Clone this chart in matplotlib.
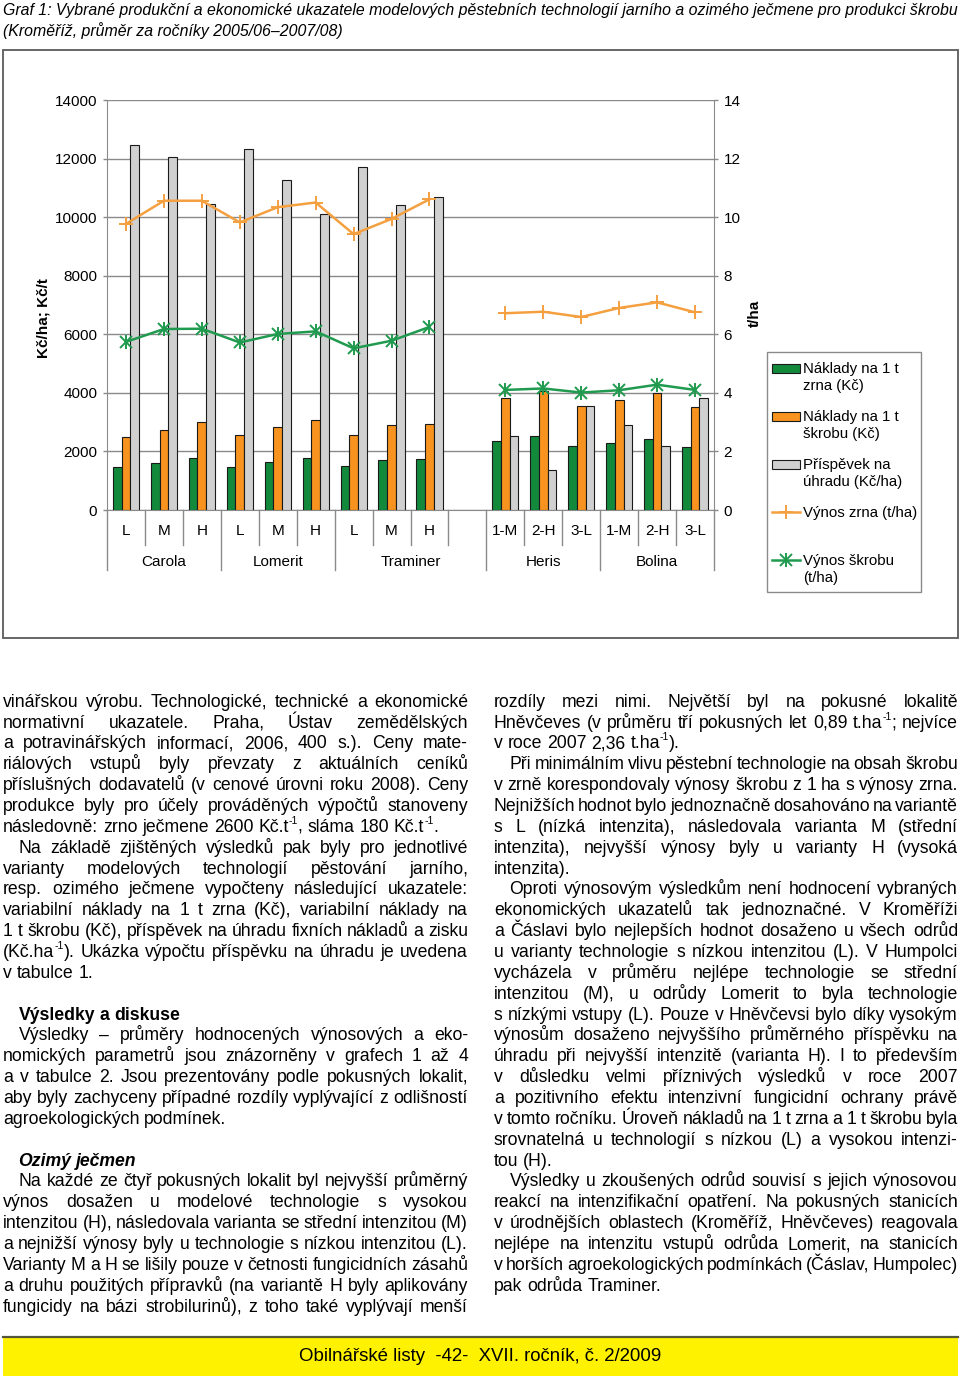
import re
import numpy as np
import matplotlib
matplotlib.use('Agg')
import matplotlib.pyplot as plt
from matplotlib.font_manager import FontProperties, findfont
from matplotlib.patches import Rectangle
from matplotlib.lines import Line2D

nan = np.nan

# ---------------- data ----------------
categories = ['L', 'M', 'H', 'L', 'M', 'H', 'L', 'M', 'H', '',
              '1-M', '2-H', '3-L', '1-M', '2-H', '3-L']
groups = ['Carola', 'Lomerit', 'Traminer', 'Heris', 'Bolina']
group_spans = [(0, 3), (3, 6), (6, 10), (10, 13), (13, 16)]

naklady_zrno = [1460, 1600, 1760, 1480, 1650, 1780, 1500, 1700, 1740, nan,
                2350, 2520, 2180, 2300, 2420, 2140]
naklady_skrob = [2480, 2740, 2990, 2550, 2840, 3070, 2560, 2900, 2950, nan,
                 3840, 4050, 3550, 3770, 3980, 3520]
prispevek = [12480, 12050, 10440, 12340, 11280, 10110, 11700, 10420, 10690, nan,
             2510, 1360, 3550, 2900, 2170, 3840]
vynos_zrna = [9.77, 10.56, 10.56, 9.82, 10.34, 10.50, 9.42, 9.94, 10.61, nan,
              6.72, 6.77, 6.59, 6.90, 7.09, 6.75]
vynos_skrobu = [5.74, 6.18, 6.19, 5.72, 6.01, 6.10, 5.52, 5.78, 6.25, nan,
                4.10, 4.15, 4.01, 4.09, 4.28, 4.10]

left_ticks = [0, 2000, 4000, 6000, 8000, 10000, 12000, 14000]
right_ticks = [0, 2, 4, 6, 8, 10, 12, 14]

legend_labels = [['Náklady na 1 t', 'zrna (Kč)'],
                 ['Náklady na 1 t', 'škrobu (Kč)'],
                 ['Příspěvek na', 'úhradu (Kč/ha)'],
                 ['Výnos zrna (t/ha)'],
                 ['Výnos škrobu', '(t/ha)']]

title1 = ('Graf 1: Vybrané produkční a ekonomické ukazatele modelových pěstebních '
          'technologií jarního a ozimého ječmene pro produkci škrobu')
title2 = '(Kroměříž, průměr za ročníky 2005/06–2007/08)'
footer = 'Obilnářské listy  -42-  XVII. ročník, č. 2/2009'

left_lines = [
    ("vinářskou výrobu. Technologické, technické a ekonomické", 'j'),
    ("normativní ukazatele. Praha, Ústav zemědělských", 'j'),
    ("a potravinářských informací, 2006, 400 s.). Ceny mate-", 'j'),
    ("riálových vstupů byly převzaty z aktuálních ceníků", 'j'),
    ("příslušných dodavatelů (v cenové úrovni roku 2008). Ceny", 'j'),
    ("produkce byly pro účely prováděných výpočtů stanoveny", 'j'),
    ("následovně: zrno ječmene 2600 Kč.t^{-1}, sláma 180 Kč.t^{-1}.", 'l'),
    (">Na základě zjištěných výsledků pak byly pro jednotlivé", 'j'),
    ("varianty modelových technologií pěstování jarního,", 'j'),
    ("resp. ozimého ječmene vypočteny následující ukazatele:", 'j'),
    ("variabilní náklady na 1 t zrna (Kč), variabilní náklady na", 'j'),
    ("1 t škrobu (Kč), příspěvek na úhradu fixních nákladů a zisku", 'j'),
    ("(Kč.ha^{-1}). Ukázka výpočtu příspěvku na úhradu je uvedena", 'j'),
    ("v tabulce 1.", 'l'),
    ("", 'l'),
    (">Výsledky a diskuse", 'b'),
    (">Výsledky – průměry hodnocených výnosových a eko-", 'j'),
    ("nomických parametrů jsou znázorněny v grafech 1 až 4", 'j'),
    ("a v tabulce 2. Jsou prezentovány podle pokusných lokalit,", 'j'),
    ("aby byly zachyceny případné rozdíly vyplývající z odlišností", 'j'),
    ("agroekologických podmínek.", 'l'),
    ("", 'l'),
    (">Ozimý ječmen", 'bi'),
    (">Na každé ze čtyř pokusných lokalit byl nejvyšší průměrný", 'j'),
    ("výnos dosažen u modelové technologie s vysokou", 'j'),
    ("intenzitou (H), následovala varianta se střední intenzitou (M)", 'j'),
    ("a nejnižší výnosy byly u technologie s nízkou intenzitou (L).", 'j'),
    ("Varianty M a H se lišily pouze v četnosti fungicidních zásahů", 'j'),
    ("a druhu použitých přípravků (na variantě H byly aplikovány", 'j'),
    ("fungicidy na bázi strobilurinů), z toho také vyplývají menší", 'j'),
]

right_lines = [
    ("rozdíly mezi nimi. Největší byl na pokusné lokalitě", 'j'),
    ("Hněvčeves (v průměru tří pokusných let 0,89 t.ha^{-1}; nejvíce", 'j'),
    ("v roce 2007 2,36 t.ha^{-1}).", 'l'),
    (">Při minimálním vlivu pěstební technologie na obsah škrobu", 'j'),
    ("v zrně korespondovaly výnosy škrobu z 1 ha s výnosy zrna.", 'j'),
    ("Nejnižších hodnot bylo jednoznačně dosahováno na variantě", 'j'),
    ("s L (nízká intenzita), následovala varianta M (střední", 'j'),
    ("intenzita), nejvyšší výnosy byly u varianty H (vysoká", 'j'),
    ("intenzita).", 'l'),
    (">Oproti výnosovým výsledkům není hodnocení vybraných", 'j'),
    ("ekonomických ukazatelů tak jednoznačné. V Kroměříži", 'j'),
    ("a Čáslavi bylo nejlepších hodnot dosaženo u všech odrůd", 'j'),
    ("u varianty technologie s nízkou intenzitou (L). V Humpolci", 'j'),
    ("vycházela v průměru nejlépe technologie se střední", 'j'),
    ("intenzitou (M), u odrůdy Lomerit to byla technologie", 'j'),
    ("s nízkými vstupy (L). Pouze v Hněvčevsi bylo díky vysokým", 'j'),
    ("výnosům dosaženo nejvyššího průměrného příspěvku na", 'j'),
    ("úhradu při nejvyšší intenzitě (varianta H). I to především", 'j'),
    ("v důsledku velmi příznivých výsledků v roce 2007", 'j'),
    ("a pozitivního efektu intenzivní fungicidní ochrany právě", 'j'),
    ("v tomto ročníku. Úroveň nákladů na 1 t zrna a 1 t škrobu byla", 'j'),
    ("srovnatelná u technologií s nízkou (L) a vysokou intenzi-", 'j'),
    ("tou (H).", 'l'),
    (">Výsledky u zkoušených odrůd souvisí s jejich výnosovou", 'j'),
    ("reakcí na intenzifikační opatření. Na pokusných stanicích", 'j'),
    ("v úrodnějších oblastech (Kroměříž, Hněvčeves) reagovala", 'j'),
    ("nejlépe na intenzitu vstupů odrůda Lomerit, na stanicích", 'j'),
    ("v horších agroekologických podmínkách (Čáslav, Humpolec)", 'j'),
    ("pak odrůda Traminer.", 'l'),
]

# ---------------- style ----------------
W, H = 960, 1380
GREEN = '#13893c'
ORANGE = '#f7931e'
GRAY = '#d0d0d0'
LINE_OR = '#f4a040'
LINE_GR = '#1f9a4e'
GRIDC = '#8a8a8a'
FAM = 'Liberation Sans'

plt.rcParams['font.family'] = [FAM, 'DejaVu Sans']

def fx(x):
    return x / W

def fy(y):
    return 1 - y / H

fig = plt.figure(figsize=(W / 100, H / 100), dpi=100)
renderer = fig.canvas.get_renderer()

def tw(s, fp):
    w, h, d = renderer.get_text_width_height_descent(s, fp, ismath=False)
    return w

def has_font(name):
    try:
        f = findfont(FontProperties(family=name), fallback_to_default=False)
        return 'narrow' in f.lower() or 'condensed' in f.lower()
    except Exception:
        return False

NARROW = 'Liberation Sans Narrow' if has_font('Liberation Sans Narrow') else FAM

# ---------------- chart frame ----------------
fig.add_artist(Rectangle((fx(3), fy(638)), (958 - 3) / W, (638 - 50) / H,
                         transform=fig.transFigure, fill=False,
                         ec='#5a5a5a', lw=1.3))

ax = fig.add_axes([fx(107), fy(510), (714 - 107) / W, (510 - 100) / H])
x = np.arange(len(categories)) + 0.5
bw = 0.23
ax.bar(x - bw, naklady_zrno, bw, color=GREEN, edgecolor='#1a1a1a', lw=0.8, zorder=3)
ax.bar(x, naklady_skrob, bw, color=ORANGE, edgecolor='#1a1a1a', lw=0.8, zorder=3)
ax.bar(x + bw, prispevek, bw, color=GRAY, edgecolor='#1a1a1a', lw=0.8, zorder=3)
ax.set_xlim(0, len(categories))
ax.set_ylim(0, 14000)
ax.set_yticks(left_ticks)
ax.set_yticklabels([str(t) for t in left_ticks], fontsize=11)
ax.set_xticks([])
ax.set_axisbelow(True)
ax.grid(axis='y', color=GRIDC, lw=1.0)
for s in ['top', 'right']:
    ax.spines[s].set_visible(False)
ax.spines['left'].set_color(GRIDC)
ax.spines['bottom'].set_color(GRIDC)
ax.tick_params(axis='y', direction='out', length=3, width=1, color=GRIDC, pad=4)

ax2 = ax.twinx()
ax2.set_ylim(0, 14)
ax2.plot(x, vynos_zrna, color=LINE_OR, lw=1.8, marker='+', ms=10, mew=1.4, zorder=5)
ax2.plot(x, vynos_skrobu, color=LINE_GR, lw=1.8, zorder=5)
ax2.plot(x, vynos_skrobu, ls='none', marker='x', ms=8, mew=1.4, color=LINE_GR, zorder=6)
ax2.plot(x, vynos_skrobu, ls='none', marker='|', ms=10, mew=1.4, color=LINE_GR, zorder=6)
ax2.set_yticks(right_ticks)
ax2.set_yticklabels([str(t) for t in right_ticks], fontsize=11)
for s in ['top', 'left', 'bottom']:
    ax2.spines[s].set_visible(False)
ax2.spines['right'].set_color(GRIDC)
ax2.tick_params(axis='y', direction='out', length=3, width=1, color=GRIDC, pad=4)

# category separators and labels
axh = 410.0
long_b = [a for a, b in group_spans] + [len(categories)]
for b in range(len(categories) + 1):
    ln = 60 if b in long_b else 35
    ax.plot([b, b], [0, -ln / axh], transform=ax.get_xaxis_transform(),
            clip_on=False, color=GRIDC, lw=1.0)
for xi, lab in zip(x, categories):
    ax.text(xi, -21 / axh, lab, transform=ax.get_xaxis_transform(),
            ha='center', va='center', fontsize=11)
for g, (a, b) in zip(groups, group_spans):
    ax.text((a + b) / 2, -52 / axh, g, transform=ax.get_xaxis_transform(),
            ha='center', va='center', fontsize=11)

fig.text(fx(44), fy(318), 'Kč/ha; Kč/t', rotation=90, weight='bold',
         fontsize=11, ha='center', va='center')
fig.text(fx(755), fy(313), 't/ha', rotation=90, weight='bold',
         fontsize=11, ha='center', va='center')

# ---------------- legend (manual) ----------------
fig.add_artist(Rectangle((fx(767), fy(592)), (921 - 767) / W, (592 - 352) / H,
                         transform=fig.transFigure, fill=False, ec='#8a8a8a', lw=1.0))
leg_y = [368, 416, 464, 512, 560]
patch_cols = [GREEN, ORANGE, GRAY]
for i, (yy, labs) in enumerate(zip(leg_y, legend_labels)):
    if i < 3:
        fig.add_artist(Rectangle((fx(772), fy(yy + 4.5)), 28 / W, 9 / H,
                                 transform=fig.transFigure, fc=patch_cols[i],
                                 ec='#1a1a1a', lw=0.8))
    elif i == 3:
        fig.add_artist(Line2D([fx(772), fx(800)], [fy(yy), fy(yy)],
                              transform=fig.transFigure, color=LINE_OR, lw=1.8))
        fig.add_artist(Line2D([fx(786)], [fy(yy)], transform=fig.transFigure,
                              marker='+', ms=10, mew=1.4, color=LINE_OR))
    else:
        fig.add_artist(Line2D([fx(772), fx(800)], [fy(yy), fy(yy)],
                              transform=fig.transFigure, color=LINE_GR, lw=1.8))
        for mk, ms in (('x', 8), ('|', 10)):
            fig.add_artist(Line2D([fx(786)], [fy(yy)], transform=fig.transFigure,
                                  marker=mk, ms=ms, mew=1.4, color=LINE_GR))
    for k, t in enumerate(labs):
        fig.text(fx(803), fy(yy + 5 + 17 * k), t, fontsize=10.8,
                 ha='left', va='baseline')

# ---------------- title / footer (fit to width) ----------------
def fitted_text(xp, yp, s, target, maxsize, ha='left', **kw):
    t = fig.text(fx(xp), fy(yp), s, fontsize=maxsize, ha=ha, va='baseline', **kw)
    for _ in range(3):
        w = t.get_window_extent(renderer=renderer).width
        t.set_fontsize(min(maxsize, t.get_fontsize() * target / w))
    return t

t1 = fitted_text(3, 15, title1, 953, 13.5, family=NARROW, style='italic')
fig.text(fx(3), fy(36), title2, family=NARROW, style='italic',
         fontsize=t1.get_fontsize(), ha='left', va='baseline')

# ---------------- body text ----------------
BODY = 12.7
SUP_SIZE = 7.5
SUPRE = re.compile(r'\^\{([^}]*)\}')

def make_fp(kind, size):
    if kind == 'b':
        return FontProperties(family=FAM, size=size, weight='bold')
    if kind == 'bi':
        return FontProperties(family=FAM, size=size, weight='bold', style='italic')
    return FontProperties(family=FAM, size=size)

fp_sup = FontProperties(family=FAM, size=SUP_SIZE)

def segments(word):
    segs, pos = [], 0
    for m in SUPRE.finditer(word):
        if m.start() > pos:
            segs.append((word[pos:m.start()], False))
        segs.append((m.group(1), True))
        pos = m.end()
    if pos < len(word):
        segs.append((word[pos:], False))
    return segs

def word_width(word, fp):
    return sum(tw(s, fp_sup if sup else fp) for s, sup in segments(word))

def draw_column(lines, x0, x1, base0=706.7, step=20.86, indent=15.5):
    for n, (txt, kind) in enumerate(lines):
        if not txt:
            continue
        ind = 0
        if txt.startswith('>'):
            ind = indent
            txt = txt[1:]
        words = txt.split(' ')
        avail = x1 - x0 - ind
        size = BODY
        while True:
            fp = make_fp(kind, size)
            widths = [word_width(w, fp) for w in words]
            space = tw('a a', fp) - tw('aa', fp)
            if kind == 'j' and len(words) > 1:
                gap = (avail - sum(widths)) / (len(words) - 1)
                if gap < 0.3 * space and size > 10:
                    size -= 0.5
                    continue
            else:
                gap = space
            break
        yb = round(base0 + step * n)
        cx = x0 + ind
        for w, wd in zip(words, widths):
            sx = cx
            for s, sup in segments(w):
                if sup:
                    fig.text(fx(sx), fy(yb - 8), s, fontproperties=fp_sup,
                             ha='left', va='baseline')
                    sx += tw(s, fp_sup)
                else:
                    fig.text(fx(sx), fy(yb), s, fontproperties=fp,
                             ha='left', va='baseline')
                    sx += tw(s, fp)
            cx += wd + gap

draw_column(left_lines, 3, 468)
draw_column(right_lines, 494, 958)

# ---------------- footer ----------------
fig.add_artist(Rectangle((fx(3), fy(1376)), (958 - 3) / W, (1376 - 1338) / H,
                         transform=fig.transFigure, fc='#fff200', ec='none'))
fig.add_artist(Line2D([fx(3), fx(958)], [fy(1337), fy(1337)],
                      transform=fig.transFigure, color='#55553a', lw=1.6))
fitted_text(480, 1361, footer, 365, 14.5, ha='center', family=NARROW)

fig.savefig('out.png', dpi=100)
